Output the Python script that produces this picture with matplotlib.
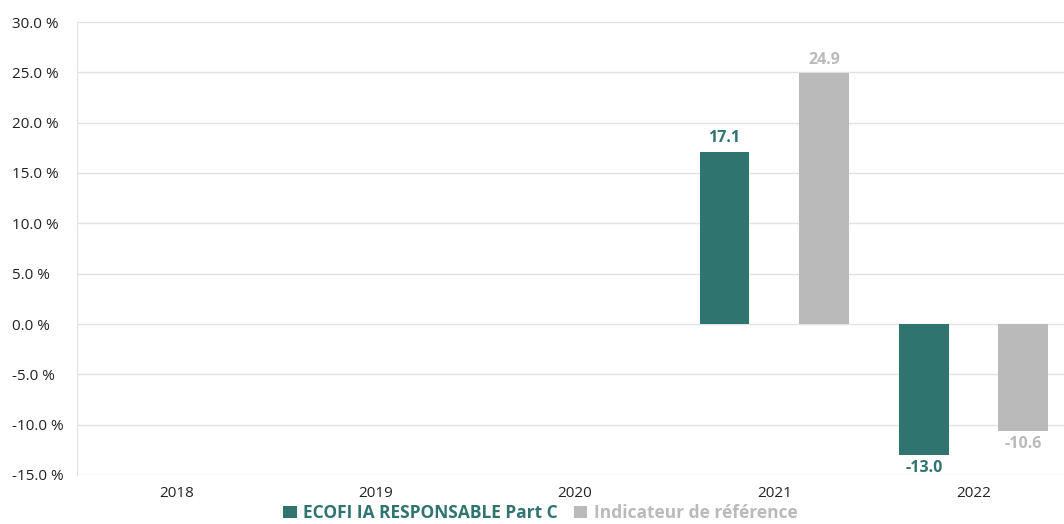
import matplotlib.pyplot as plt
import numpy as np

years = ["2018", "2019", "2020", "2021", "2022"]
fund = [np.nan, np.nan, np.nan, 17.1, -13.0]
index = [np.nan, np.nan, np.nan, 24.9, -10.6]
fund_name = "ECOFI IA RESPONSABLE Part C"
index_name = "Indicateur de référence"

teal = "#30746f"
grey = "#bababa"

fig = plt.figure(figsize=(10.64, 5.24), dpi=100)
ax = fig.add_axes([77 / 1064, 49 / 524, 987 / 1064, 453 / 524])

x = np.arange(len(years))
w = 0.25
ax.bar(x - w, fund, w, color=teal, label=fund_name, zorder=3)
ax.bar(x + w, index, w, color=grey, label=index_name, zorder=3)

def put_labels(xs, vals, col):
    for xi, v in zip(xs, vals):
        if np.isnan(v):
            continue
        ax.annotate(f"{v:.1f}", (xi, v), xytext=(0, 4 if v > 0 else -4),
                    textcoords="offset points", ha="center",
                    va="bottom" if v > 0 else "top",
                    color=col, fontsize=11.5, fontweight="bold", family="Open Sans")

put_labels(x - w, fund, teal)
put_labels(x + w, index, grey)

ax.set_xlim(-0.5, 4.454)
ax.set_ylim(-15, 30)
yt = np.arange(-15, 31, 5)
ax.set_yticks(yt)
ax.set_yticklabels([f"{t:.1f} %" for t in yt])
ax.set_xticks(x)
ax.set_xticklabels(years)
ax.tick_params(length=0, labelsize=11, labelcolor="#222222")
ax.tick_params(axis="x", pad=8)
ax.tick_params(axis="y", pad=47)
for lab in ax.get_xticklabels() + ax.get_yticklabels():
    lab.set_family("Open Sans")
for lab in ax.get_yticklabels():
    lab.set_ha("left")

ax.grid(axis="y", color="#e3e3e3", linewidth=1, zorder=0)
for s in ["top", "right", "bottom"]:
    ax.spines[s].set_visible(False)
ax.spines["left"].set_color("#e3e3e3")

leg = fig.legend(loc="lower center", bbox_to_anchor=(0.508, -0.026), ncol=2,
                 frameon=False, handlelength=0.75, handleheight=0.75,
                 handletextpad=0.4, columnspacing=0.9,
                 prop={"family": "Open Sans", "weight": "bold", "size": 12.5})
for t, c in zip(leg.get_texts(), [teal, grey]):
    t.set_color(c)

fig.savefig("out.png", dpi=100)
